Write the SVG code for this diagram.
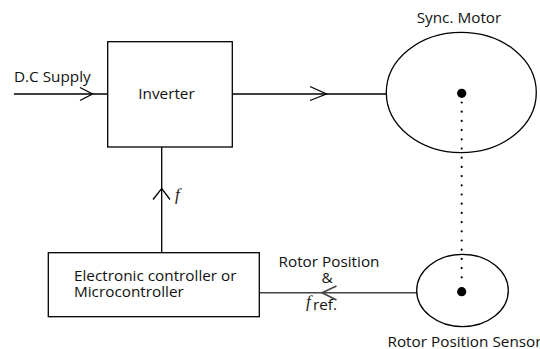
<svg xmlns="http://www.w3.org/2000/svg" width="540" height="349" viewBox="0 0 540 349">
<style>
.box{fill:#fff;stroke:#000;stroke-width:1.3}
.ln{fill:none;stroke:#000;stroke-width:1.3}
.gl{fill:none;stroke:#444;stroke-width:1.6}
.t{font-family:"Open Sans","Liberation Sans",sans-serif;font-size:15.3px;fill:#111}
.fi{font-family:"Liberation Serif",serif;font-style:italic;font-size:17px;fill:#222}
.dot{fill:none;stroke:#000;stroke-width:2.2;stroke-linecap:round;stroke-dasharray:0 9.2}
</style>
<rect width="540" height="349" fill="#fff"/>
<g id="connectors">
<g id="dc-supply">
<line class="ln" x1="14" y1="94" x2="108" y2="94"/>
<polyline class="ln" points="80,87.5 92.5,94 80,100.5"/>
<text class="t" x="14" y="81.5">D.C Supply</text>
</g>
<g id="inv-motor">
<line class="ln" x1="232" y1="94" x2="386" y2="94"/>
<polyline class="ln" points="310,86.5 326.5,94 310,100.5"/>
</g>
<g id="ctrl-inv">
<line class="ln" x1="161.7" y1="147" x2="161.7" y2="252.7"/>
<polyline class="ln" points="153,199.5 161.7,188.5 170,199.5"/>
<text class="fi" x="175" y="200">f</text>
</g>
<g id="sensor-ctrl">
<line class="gl" x1="259.3" y1="292.7" x2="416.7" y2="292.7"/>
<polyline class="gl" points="336.5,286 322,292.7 336.5,300"/>
<text class="t" x="329" y="266.5" text-anchor="middle">Rotor Position</text>
<text class="t" x="327" y="282.5" text-anchor="middle">&amp;</text>
<text class="fi" x="306" y="307">f</text>
<text class="t" x="313" y="309.5">ref.</text>
</g>
<g id="shaft">
<line class="dot" x1="461.7" y1="102.5" x2="461.7" y2="285"/>
</g>
</g>
<g id="inverter">
<rect class="box" x="107.7" y="41.7" width="124.6" height="105.3"/>
<text class="t" x="166.5" y="99.3" text-anchor="middle">Inverter</text>
</g>
<g id="controller">
<rect class="box" x="48.3" y="252.7" width="211" height="64"/>
<text class="t" x="74" y="281">Electronic controller or</text>
<text class="t" x="74" y="297">Microcontroller</text>
</g>
<g id="motor">
<ellipse class="ln" cx="461.3" cy="92.5" rx="75" ry="60.2"/>
<circle cx="461.7" cy="93.3" r="4.6" fill="#000"/>
<text class="t" x="459" y="23.3" text-anchor="middle">Sync. Motor</text>
</g>
<g id="sensor">
<ellipse class="ln" cx="462.5" cy="290.5" rx="45.8" ry="36.2"/>
<circle cx="461.7" cy="291.7" r="4.6" fill="#000"/>
<text class="t" x="464.5" y="346.5" text-anchor="middle">Rotor Position Sensor</text>
</g>
</svg>
